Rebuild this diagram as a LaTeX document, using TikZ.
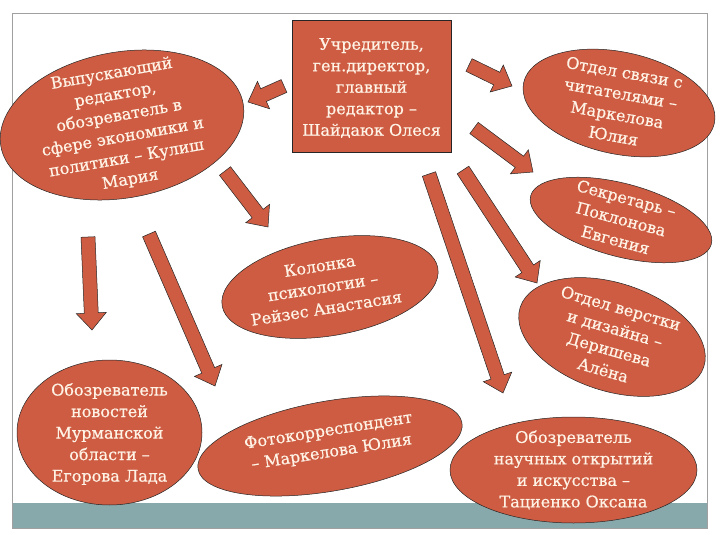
\documentclass[tikz,border=0pt]{standalone}
\usepackage{fontspec}
\setmainfont{DejaVu Serif}[UprightFeatures={FakeBold=0.6}]
\usetikzlibrary{shapes.geometric,calc}
\definecolor{brick}{HTML}{CD5C42}
\definecolor{cream}{HTML}{FFF3E6}
\definecolor{teal}{HTML}{87A9AC}
\definecolor{rim}{HTML}{A0A0A0}

% block arrow from tail #1 to tip #2
\newcommand{\blockarrow}[2]{%
  \filldraw[arr] ($(#1)!7pt!90:(#2)$) -- ($(#2)!17pt!(#1)!7pt!90:(#2)$)
    -- ($(#2)!17pt!(#1)!15pt!90:(#2)$) -- (#2)
    -- ($(#2)!17pt!(#1)!15pt!-90:(#2)$) -- ($(#2)!17pt!(#1)!7pt!-90:(#2)$)
    -- ($(#1)!7pt!-90:(#2)$) -- cycle;}

\begin{document}
\begin{tikzpicture}[x=1pt,y=-1pt,
  blob/.style={ellipse,draw=black!85,fill=brick,line width=0.5pt,inner sep=0pt},
  boss/.style={rectangle,draw=black!85,fill=brick,line width=0.5pt,inner sep=0pt},
  txt/.style={text=cream,align=center,inner sep=0pt,
              font=\fontsize{16}{21.5}\selectfont},
  arr/.style={draw=black!85,fill=brick,line width=0.5pt,line join=miter}]

\useasboundingbox (0,0) rectangle (720,540);

% frame and strip
\fill[teal] (12,503) rectangle (707,528);
\draw[rim,line width=0.7pt] (12,13) rectangle (707,528);

% top row
\node[boss,minimum width=159pt,minimum height=132pt] (chief) at (371.5,86) {};
\node[txt] (chief-t) at (371.5,88)
  {Учредитель,\\ ген.директор,\\ главный\\ редактор –\\ Шайдаюк Олеся};

\node[blob,rotate=10,minimum width=246pt,minimum height=146pt] (vyp) at (122,125) {};
\node[txt,rotate=10] (vyp-t) at (121,127)
  {Выпускающий\\ редактор,\\ обозреватель в\\ сфере экономики и\\ политики – Кулиш\\ Мария};

\node[blob,rotate=-12,minimum width=195pt,minimum height=102pt] (svyaz) at (619,103) {};
\node[txt,rotate=-10] (svyaz-t) at (619,104)
  {Отдел связи с\\ читателями –\\ Маркелова\\ Юлия};

\node[blob,rotate=-15,minimum width=187pt,minimum height=73pt] (sekr) at (621,220) {};
\node[txt,rotate=-15] (sekr-t) at (621,219)
  {Секретарь –\\ Поклонова\\ Евгения};

% middle row
\node[blob,rotate=10,minimum width=219pt,minimum height=97pt] (psy) at (330,287) {};
\node[txt,rotate=9] (psy-t) at (323,287)
  {Колонка\\ психологии –\\ Рейзес Анастасия};

\node[blob,rotate=-18,minimum width=193pt,minimum height=108pt] (verst) at (612,337) {};
\node[txt,rotate=-16] (verst-t) at (612,339)
  {Отдел верстки\\ и дизайна –\\ Деришева\\ Алёна};

% bottom row
\node[blob,minimum width=185pt,minimum height=145pt] (murm) at (109.5,432.5) {};
\node[txt] (murm-t) at (109.5,434)
  {Обозреватель\\ новостей\\ Мурманской\\ области –\\ Егорова Лада};

\node[blob,rotate=10,minimum width=268pt,minimum height=90pt] (foto) at (330,446) {};
\node[txt,rotate=9] (foto-t) at (330,442)
  {Фотокорреспондент\\ – Маркелова Юлия};

\node[blob,minimum width=247pt,minimum height=106pt] (nauka) at (573.5,470) {};
\node[txt] (nauka-t) at (573.5,470)
  {Обозреватель\\ научных открытий\\ и искусства –\\ Тациенко Оксана};

% arrow ends
\coordinate (chiefW) at (284,86);   \coordinate (vypE) at (248,102);
\coordinate (chiefE) at (469,65);   \coordinate (svyazW) at (512,86);
\coordinate (chiefSE) at (474,128); \coordinate (sekrW) at (533,172);
\coordinate (vypSE) at (225,171);   \coordinate (psyN) at (268,227);
\coordinate (vypS) at (88,237);     \coordinate (murmN) at (92,330);
\coordinate (vypS2) at (149,234);   \coordinate (fotoN) at (215,386);
\coordinate (chiefS) at (429,174);  \coordinate (naukaN) at (503,393);
\coordinate (chiefS2) at (463,170); \coordinate (verstN) at (537,283);

\blockarrow{chiefW}{vypE}
\blockarrow{chiefE}{svyazW}
\blockarrow{chiefSE}{sekrW}
\blockarrow{vypSE}{psyN}
\blockarrow{vypS}{murmN}
\blockarrow{vypS2}{fotoN}
\blockarrow{chiefS}{naukaN}
\blockarrow{chiefS2}{verstN}
\end{tikzpicture}
\end{document}
